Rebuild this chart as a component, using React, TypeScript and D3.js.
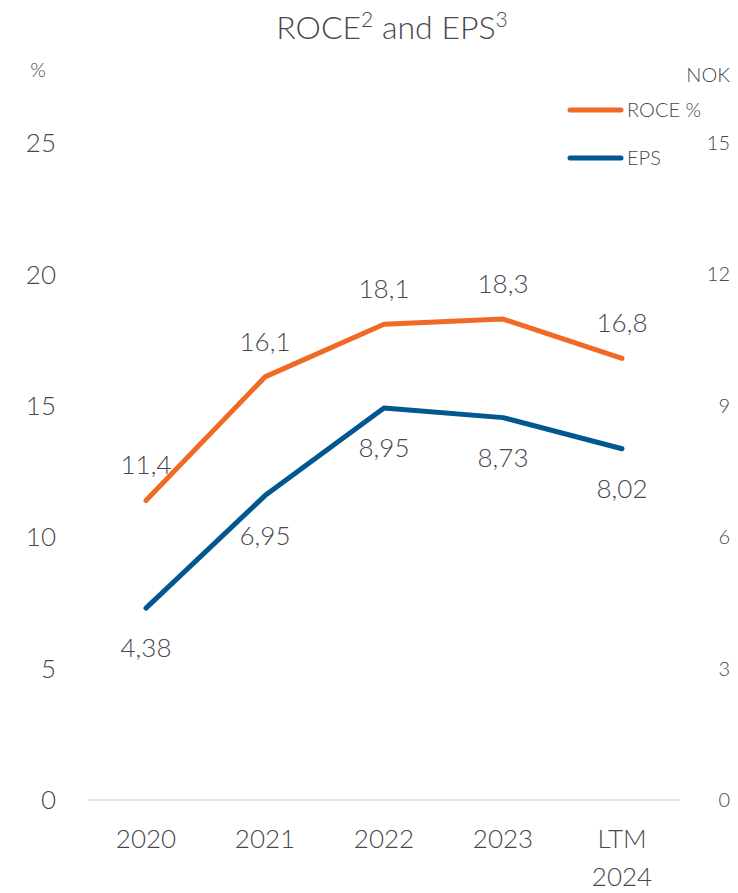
import React from "react";
import * as d3 from "d3";

const categories = ["2020", "2021", "2022", "2023", "LTM\n2024"];
const roce = [11.4, 16.1, 18.1, 18.3, 16.8];
const eps = [4.38, 6.95, 8.95, 8.73, 8.02];
const roceLabels = ["11,4", "16,1", "18,1", "18,3", "16,8"];
const epsLabels = ["4,38", "6,95", "8,95", "8,73", "8,02"];
const leftTicks = [0, 5, 10, 15, 20, 25];
const rightTicks = [0, 3, 6, 9, 12, 15];

const W = 738;
const H = 893;
const ORANGE = "#F06A25";
const BLUE = "#02578F";
const TEXT = "#4A4650";
const FONT = "Lato, 'Open Sans', sans-serif";

export default function App() {
  const x = d3.scalePoint<string>().domain(categories).range([146, 622]);
  const yL = d3.scaleLinear().domain([0, 25]).range([800, 143]);
  const yR = d3.scaleLinear().domain([0, 15]).range([800, 143]);

  const lineL = d3
    .line<number>()
    .x((_, i) => x(categories[i])!)
    .y((d) => yL(d));
  const lineR = d3
    .line<number>()
    .x((_, i) => x(categories[i])!)
    .y((d) => yR(d));

  return (
    <svg
      width={W}
      height={H}
      style={{ position: "absolute", left: 0, top: 0, fontFamily: FONT, fontWeight: 300 }}
    >
      <rect width={W} height={H} fill="#fff" />
      <text x={392} y={39} textAnchor="middle" fontSize={32} fill={TEXT}>
        ROCE<tspan dy={-12} fontSize={21}>2</tspan>
        <tspan dy={12}> and EPS</tspan>
        <tspan dy={-12} fontSize={21}>3</tspan>
      </text>
      <text x={38} y={77} textAnchor="middle" fontSize={20} fill={TEXT}>%</text>
      <text x={730} y={82} textAnchor="end" fontSize={20} fill={TEXT}>NOK</text>

      {leftTicks.map((t) => (
        <text key={"l" + t} x={56} y={yL(t)} dy="0.35em" textAnchor="end" fontSize={26} fill={TEXT}>
          {t}
        </text>
      ))}
      {rightTicks.map((t) => (
        <text key={"r" + t} x={730} y={yR(t)} dy="0.35em" textAnchor="end" fontSize={20} fill={TEXT}>
          {t}
        </text>
      ))}

      <line x1={88} x2={680} y1={yL(0)} y2={yL(0)} stroke="#D9D9D9" strokeWidth={1.5} />

      {categories.map((c) => {
        const lines = c.split("\n");
        return (
          <text key={c} x={x(c)} y={848} textAnchor="middle" fontSize={26} fill={TEXT}>
            {lines.map((ln, j) => (
              <tspan key={j} x={x(c)} dy={j === 0 ? 0 : 38}>
                {ln}
              </tspan>
            ))}
          </text>
        );
      })}

      <path d={lineL(roce)!} fill="none" stroke={ORANGE} strokeWidth={5} strokeLinecap="round" strokeLinejoin="round" />
      <path d={lineR(eps)!} fill="none" stroke={BLUE} strokeWidth={5} strokeLinecap="round" strokeLinejoin="round" />

      {roce.map((v, i) => (
        <text key={"rl" + i} x={x(categories[i])} y={yL(v) - 26} textAnchor="middle" fontSize={26} fill={TEXT}>
          {roceLabels[i]}
        </text>
      ))}
      {eps.map((v, i) => (
        <text key={"el" + i} x={x(categories[i])} y={yR(v) + 49} textAnchor="middle" fontSize={26} fill={TEXT}>
          {epsLabels[i]}
        </text>
      ))}

      <line x1={570} x2={621} y1={110} y2={110} stroke={ORANGE} strokeWidth={5} strokeLinecap="round" />
      <text x={627} y={110} dy="0.35em" fontSize={20} fill={TEXT}>ROCE %</text>
      <line x1={570} x2={621} y1={158} y2={158} stroke={BLUE} strokeWidth={5} strokeLinecap="round" />
      <text x={627} y={158} dy="0.35em" fontSize={20} fill={TEXT}>EPS</text>
    </svg>
  );
}
